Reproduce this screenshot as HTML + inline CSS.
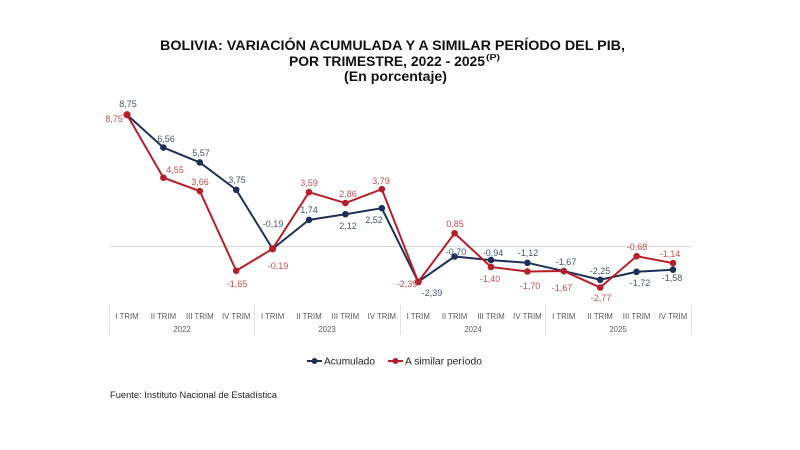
<!DOCTYPE html>
<html>
<head>
<meta charset="utf-8">
<style>
  html,body{margin:0;padding:0;background:#ffffff;}
  svg{display:block;}
  text{font-family:"Liberation Sans",Arial,sans-serif;}
</style>
</head>
<body>
<svg width="800" height="450" viewBox="0 0 800 450" xmlns="http://www.w3.org/2000/svg">
  <rect x="0" y="0" width="800" height="450" fill="#ffffff"/>

  <!-- Title -->
  <text x="160" y="50" font-size="13.5" font-weight="bold" fill="#111" textLength="465" lengthAdjust="spacingAndGlyphs">BOLIVIA: VARIACIÓN ACUMULADA Y A SIMILAR PERÍODO DEL PIB,</text>
  <text x="289" y="66" font-size="13.5" font-weight="bold" fill="#111" textLength="196" lengthAdjust="spacingAndGlyphs">POR TRIMESTRE, 2022 - 2025</text>
  <text x="486" y="60" font-size="8" font-weight="bold" fill="#111" textLength="14" lengthAdjust="spacingAndGlyphs">(P)</text>
  <text x="344" y="81" font-size="13.5" font-weight="bold" fill="#111" textLength="103" lengthAdjust="spacingAndGlyphs">(En porcentaje)</text>

  <!-- zero line -->
  <line x1="109" y1="246.5" x2="692" y2="246.5" stroke="#d9d9d9" stroke-width="1"/>

  <!-- category axis separators -->
  <g stroke="#e3e3e3" stroke-width="1">
    <line x1="109.5" y1="305" x2="109.5" y2="335"/>
    <line x1="254.5" y1="305" x2="254.5" y2="335"/>
    <line x1="400.5" y1="305" x2="400.5" y2="335"/>
    <line x1="545.5" y1="305" x2="545.5" y2="335"/>
    <line x1="691.5" y1="305" x2="691.5" y2="335"/>
  </g>

  <!-- category labels -->
  <g font-size="7.8" fill="#595959" text-anchor="middle">
    <text x="127" y="319">I TRIM</text>
    <text x="163.4" y="319">II TRIM</text>
    <text x="199.8" y="319">III TRIM</text>
    <text x="236.2" y="319">IV TRIM</text>
    <text x="272.6" y="319">I TRIM</text>
    <text x="309" y="319">II TRIM</text>
    <text x="345.4" y="319">III TRIM</text>
    <text x="381.8" y="319">IV TRIM</text>
    <text x="418.2" y="319">I TRIM</text>
    <text x="454.6" y="319">II TRIM</text>
    <text x="491" y="319">III TRIM</text>
    <text x="527.4" y="319">IV TRIM</text>
    <text x="563.8" y="319">I TRIM</text>
    <text x="600.2" y="319">II TRIM</text>
    <text x="636.6" y="319">III TRIM</text>
    <text x="673" y="319">IV TRIM</text>
    <text x="182" y="332">2022</text>
    <text x="327" y="332">2023</text>
    <text x="473" y="332">2024</text>
    <text x="618" y="332">2025</text>
  </g>

  <!-- Acumulado series -->
  <polyline fill="none" stroke="#1f3056" stroke-width="2" stroke-linejoin="round"
    points="127,114.75 163.4,147.6 199.8,162.45 236.2,189.75 272.6,248.85 309,219.9 345.4,214.2 381.8,208.2 418.2,281.85 454.6,256.5 491,260.1 527.4,262.8 563.8,271.05 600.2,279.75 636.6,271.8 673,269.7"/>
  <g fill="#1f3056">
    <circle cx="127" cy="114.75" r="3.3"/>
    <circle cx="163.4" cy="147.6" r="3.3"/>
    <circle cx="199.8" cy="162.45" r="3.3"/>
    <circle cx="236.2" cy="189.75" r="3.3"/>
    <circle cx="272.6" cy="248.85" r="3.3"/>
    <circle cx="309" cy="219.9" r="3.3"/>
    <circle cx="345.4" cy="214.2" r="3.3"/>
    <circle cx="381.8" cy="208.2" r="3.3"/>
    <circle cx="418.2" cy="281.85" r="3.3"/>
    <circle cx="454.6" cy="256.5" r="3.3"/>
    <circle cx="491" cy="260.1" r="3.3"/>
    <circle cx="527.4" cy="262.8" r="3.3"/>
    <circle cx="563.8" cy="271.05" r="3.3"/>
    <circle cx="600.2" cy="279.75" r="3.3"/>
    <circle cx="636.6" cy="271.8" r="3.3"/>
    <circle cx="673" cy="269.7" r="3.3"/>
  </g>

  <!-- Similar periodo series -->
  <polyline fill="none" stroke="#b51f2a" stroke-width="2" stroke-linejoin="round"
    points="127,114.75 163.4,177.75 199.8,191.1 236.2,270.75 272.6,248.85 309,192.15 345.4,203.1 381.8,189.15 418.2,281.85 454.6,233.25 491,267 527.4,271.5 563.8,271.05 600.2,287.55 636.6,256.2 673,263.1"/>
  <g fill="#b51f2a">
    <circle cx="127" cy="114.75" r="3.6"/>
    <circle cx="163.4" cy="177.75" r="3.3"/>
    <circle cx="199.8" cy="191.1" r="3.3"/>
    <circle cx="236.2" cy="270.75" r="3.3"/>
    <circle cx="272.6" cy="248.85" r="3.6"/>
    <circle cx="309" cy="192.15" r="3.3"/>
    <circle cx="345.4" cy="203.1" r="3.3"/>
    <circle cx="381.8" cy="189.15" r="3.3"/>
    <circle cx="418.2" cy="281.85" r="3.6"/>
    <circle cx="454.6" cy="233.25" r="3.3"/>
    <circle cx="491" cy="267" r="3.3"/>
    <circle cx="527.4" cy="271.5" r="3.3"/>
    <circle cx="563.8" cy="271.05" r="3.3"/>
    <circle cx="600.2" cy="287.55" r="3.3"/>
    <circle cx="636.6" cy="256.2" r="3.3"/>
    <circle cx="673" cy="263.1" r="3.3"/>
  </g>

  <!-- Acumulado labels -->
  <g font-size="9" fill="#44546a" text-anchor="middle">
    <text x="128" y="107">8,75</text>
    <text x="166" y="142">6,56</text>
    <text x="201" y="156">5,57</text>
    <text x="237" y="183">3,75</text>
    <text x="273" y="227">-0,19</text>
    <text x="309" y="213">1,74</text>
    <text x="348" y="229">2,12</text>
    <text x="374" y="223">2,52</text>
    <text x="432" y="296">-2,39</text>
    <text x="456" y="255">-0,70</text>
    <text x="493" y="256">-0,94</text>
    <text x="528" y="256">-1,12</text>
    <text x="566" y="265">-1,67</text>
    <text x="600" y="274">-2,25</text>
    <text x="640" y="286">-1,72</text>
    <text x="672" y="281">-1,58</text>
  </g>

  <!-- Similar labels -->
  <g font-size="9" fill="#c0504d" text-anchor="middle">
    <text x="114" y="122">8,75</text>
    <text x="175" y="173">4,55</text>
    <text x="200" y="185">3,66</text>
    <text x="237" y="287">-1,65</text>
    <text x="278" y="269">-0,19</text>
    <text x="309" y="186">3,59</text>
    <text x="348" y="197">2,86</text>
    <text x="381" y="184">3,79</text>
    <text x="407" y="287">-2,39</text>
    <text x="455" y="227">0,85</text>
    <text x="490" y="282">-1,40</text>
    <text x="530" y="289">-1,70</text>
    <text x="562" y="291">-1,67</text>
    <text x="601" y="301">-2,77</text>
    <text x="637" y="250">-0,68</text>
    <text x="670" y="257">-1,14</text>
  </g>

  <!-- Legend -->
  <line x1="307" y1="361" x2="322" y2="361" stroke="#1f3056" stroke-width="2"/>
  <circle cx="314.5" cy="361" r="3" fill="#1f3056"/>
  <text x="324" y="364.5" font-size="10" fill="#222" textLength="51" lengthAdjust="spacingAndGlyphs">Acumulado</text>
  <line x1="388" y1="361" x2="403" y2="361" stroke="#b51f2a" stroke-width="2"/>
  <circle cx="395.5" cy="361" r="3" fill="#b51f2a"/>
  <text x="405" y="364.5" font-size="10" fill="#222" textLength="77" lengthAdjust="spacingAndGlyphs">A similar período</text>

  <!-- Source -->
  <text x="110" y="398" font-size="9" fill="#222" textLength="167" lengthAdjust="spacingAndGlyphs">Fuente: Instituto Nacional de Estadística</text>
</svg>
</body>
</html>
